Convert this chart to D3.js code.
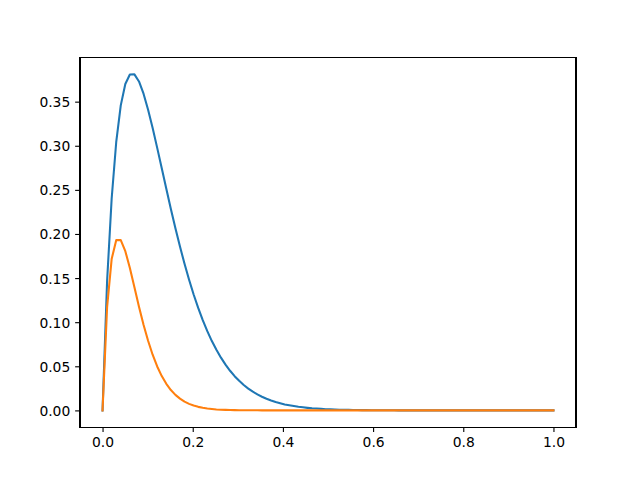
<!DOCTYPE html>
<html>
<head>
<meta charset="utf-8">
<script src="https://cdnjs.cloudflare.com/ajax/libs/d3/7.8.5/d3.min.js"></script>
<style>
	body { margin: 0; background: #ffffff; }
	svg { display: block; }
	.tick text { font-family: "DejaVu Sans", sans-serif; font-size: 13.89px; fill: #000000; }
</style>
</head>
<body>
<div id="chart"></div>
<script>
// x positions of the samples (100 points from 0 to 1)
var xValues = d3.range(100).map(function(i) { return i / 99; });

// blue curve
var blueValues = [
	0.0000, 0.1467, 0.2399, 0.3040, 0.3458, 0.3701, 0.3808, 0.3809, 0.3729, 0.3590,
	0.3409, 0.3201, 0.2976, 0.2744, 0.2512, 0.2284, 0.2065, 0.1857, 0.1662, 0.1481,
	0.1314, 0.1162, 0.1023, 0.0898, 0.0786, 0.0687, 0.0598, 0.0519, 0.0449, 0.0388,
	0.0335, 0.0288, 0.0247, 0.0212, 0.0181, 0.0155, 0.0132, 0.0112, 0.0095, 0.0081,
	0.0068, 0.0058, 0.0049, 0.0041, 0.0035, 0.0029, 0.0024, 0.0021, 0.0017, 0.0014,
	0.0012, 0.0010, 0.0008, 0.0007, 0.0006, 0.0005, 0.0004, 0.0003, 0.0003, 0.0002,
	0.0002, 0.0001, 0.0001, 0.0001, 0.0001, 0.0000, 0.0000, 0.0000, 0.0000, 0.0000,
	0.0000, 0.0000, 0.0000, 0.0000, 0.0000, 0.0000, 0.0000, 0.0000, 0.0000, 0.0000,
	0.0000, 0.0000, 0.0000, 0.0000, 0.0000, 0.0000, 0.0000, 0.0000, 0.0000, 0.0000,
	0.0000, 0.0000, 0.0000, 0.0000, 0.0000, 0.0000, 0.0000, 0.0000, 0.0000, 0.0000
];

// orange curve
var orangeValues = [
	0.0000, 0.1170, 0.1716, 0.1930, 0.1930, 0.1805, 0.1614, 0.1396, 0.1176, 0.0972,
	0.0789, 0.0631, 0.0498, 0.0389, 0.0301, 0.0231, 0.0176, 0.0133, 0.0099, 0.0074,
	0.0055, 0.0040, 0.0030, 0.0022, 0.0016, 0.0011, 0.0008, 0.0006, 0.0004, 0.0003,
	0.0002, 0.0002, 0.0001, 0.0001, 0.0001, 0.0000, 0.0000, 0.0000, 0.0000, 0.0000,
	0.0000, 0.0000, 0.0000, 0.0000, 0.0000, 0.0000, 0.0000, 0.0000, 0.0000, 0.0000,
	0.0000, 0.0000, 0.0000, 0.0000, 0.0000, 0.0000, 0.0000, 0.0000, 0.0000, 0.0000,
	0.0000, 0.0000, 0.0000, 0.0000, 0.0000, 0.0000, 0.0000, 0.0000, 0.0000, 0.0000,
	0.0000, 0.0000, 0.0000, 0.0000, 0.0000, 0.0000, 0.0000, 0.0000, 0.0000, 0.0000,
	0.0000, 0.0000, 0.0000, 0.0000, 0.0000, 0.0000, 0.0000, 0.0000, 0.0000, 0.0000,
	0.0000, 0.0000, 0.0000, 0.0000, 0.0000, 0.0000, 0.0000, 0.0000, 0.0000, 0.0000
];

var xTicks = [0.0, 0.2, 0.4, 0.6, 0.8, 1.0];
var yTicks = [0.00, 0.05, 0.10, 0.15, 0.20, 0.25, 0.30, 0.35];

var seriesColors = ["#1f77b4", "#ff7f0e"];

var width = 640, height = 480;
// axes box like matplotlib defaults
var boxLeft = 80, boxRight = 576, boxTop = 57.6, boxBottom = 427.2;

var svg = d3.select("#chart").append("svg")
	.attr("width", width)
	.attr("height", height);

// 5% margins on both axes
var xMin = d3.min(xValues), xMax = d3.max(xValues);
var xPad = (xMax - xMin) * 0.05;
var yMin = d3.min([d3.min(blueValues), d3.min(orangeValues)]);
var yMax = d3.max([d3.max(blueValues), d3.max(orangeValues)]);
var yPad = (yMax - yMin) * 0.05;

var xScale = d3.scaleLinear()
	.domain([xMin - xPad, xMax + xPad])
	.range([boxLeft, boxRight]);

var yScale = d3.scaleLinear()
	.domain([yMin - yPad, yMax + yPad])
	.range([boxBottom, boxTop]);

svg.append("clipPath")
	.attr("id", "plotArea")
	.append("rect")
	.attr("x", boxLeft)
	.attr("y", boxTop)
	.attr("width", boxRight - boxLeft)
	.attr("height", boxBottom - boxTop);

var line = d3.line()
	.x(function(d) { return xScale(d[0]); })
	.y(function(d) { return yScale(d[1]); });

var series = [blueValues, orangeValues];

svg.append("g")
	.attr("clip-path", "url(#plotArea)")
	.selectAll("path")
	.data(series)
	.enter().append("path")
	.attr("d", function(vals) {
		return line(vals.map(function(v, i) { return [xValues[i], v]; }));
	})
	.attr("fill", "none")
	.attr("stroke", function(d, i) { return seriesColors[i]; })
	.attr("stroke-width", 2.08)
	.attr("stroke-linejoin", "round")
	.attr("stroke-linecap", "square");

//axes
var xAxis = d3.axisBottom(xScale)
	.tickValues(xTicks)
	.tickFormat(d3.format(".1f"))
	.tickSizeInner(4.86)
	.tickSizeOuter(0)
	.tickPadding(4.86);

var yAxis = d3.axisLeft(yScale)
	.tickValues(yTicks)
	.tickFormat(d3.format(".2f"))
	.tickSizeInner(4.86)
	.tickSizeOuter(0)
	.tickPadding(4.86);

var gx = svg.append("g")
	.attr("transform", "translate(0," + boxBottom + ")")
	.call(xAxis);
gx.select(".domain").remove();
gx.selectAll(".tick line").attr("stroke", "#000").attr("stroke-width", 1.11);
gx.selectAll(".tick text").attr("dy", null).attr("y", 19.8);

var gy = svg.append("g")
	.attr("transform", "translate(" + boxLeft + ",0)")
	.call(yAxis);
gy.select(".domain").remove();
gy.selectAll(".tick line").attr("stroke", "#000").attr("stroke-width", 1.11);
gy.selectAll(".tick text").attr("dy", null).attr("y", 5);

// frame around the plot
svg.append("rect")
	.attr("x", boxLeft)
	.attr("y", boxTop)
	.attr("width", boxRight - boxLeft)
	.attr("height", boxBottom - boxTop)
	.attr("fill", "none")
	.attr("stroke", "#000")
	.attr("stroke-width", 1.11)
	.attr("shape-rendering", "crispEdges");
</script>
</body>
</html>
